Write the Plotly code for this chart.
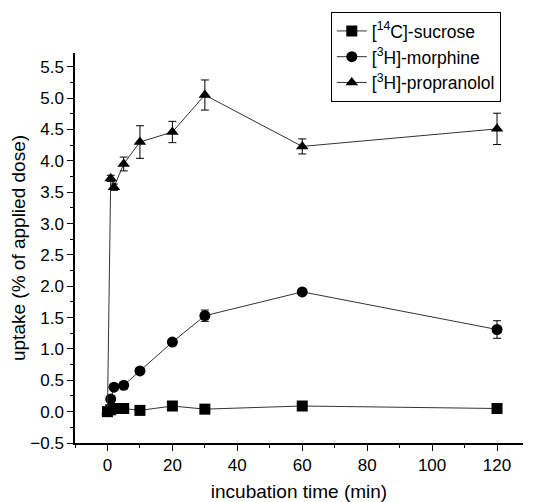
import plotly.graph_objects as go

time_min = [0, 1, 2, 5, 10, 20, 30, 60, 120]

sucrose = [0.0, 0.03, 0.05, 0.05, 0.02, 0.09, 0.04, 0.09, 0.05]
sucrose_err = [0, 0.01, 0.01, 0.01, 0.01, 0.02, 0.01, 0.01, 0.01]

morphine = [0.0, 0.20, 0.39, 0.42, 0.65, 1.11, 1.53, 1.91, 1.31]
morphine_err = [0, 0.02, 0.02, 0.02, 0.04, 0.04, 0.09, 0.03, 0.14]

propranolol = [0.0, 3.72, 3.58, 3.95, 4.30, 4.46, 5.05, 4.23, 4.51]
propranolol_err = [0, 0.05, 0.05, 0.11, 0.26, 0.17, 0.24, 0.12, 0.25]

names = ["[<sup>14</sup>C]-sucrose", "[<sup>3</sup>H]-morphine", "[<sup>3</sup>H]-propranolol"]
symbols = ["square", "circle", "triangle-up"]
series = [sucrose, morphine, propranolol]
errors = [sucrose_err, morphine_err, propranolol_err]

fig = go.Figure()
for name, sym, ys, es in zip(names, symbols, series, errors):
    fig.add_trace(go.Scatter(
        x=time_min, y=ys, name=name, mode="lines+markers",
        line=dict(color="#333333", width=1),
        marker=dict(symbol=sym, size=11, color="black"),
        error_y=dict(type="data", array=es, visible=True, color="black", thickness=1, width=4),
    ))

fig.update_layout(
    width=549, height=494,
    margin=dict(l=67, r=34, t=45, b=59, autoexpand=False),
    plot_bgcolor="white", paper_bgcolor="white",
    font=dict(family="Liberation Sans, Arial, sans-serif", color="black", size=16),
    showlegend=True,
    legend=dict(x=0.571, y=1.105, xanchor="left", yanchor="top",
                bordercolor="black", borderwidth=1, bgcolor="white",
                font=dict(size=17.5), tracegroupgap=0, itemwidth=30),
)
fig.update_xaxes(
    range=[-10, 128], showgrid=False, zeroline=False,
    showline=True, linecolor="black", linewidth=1.5,
    ticks="outside", ticklen=6, tickwidth=1, tickcolor="black",
    tickmode="array", tickvals=[0, 20, 40, 60, 80, 100, 120],
    minor=dict(tickmode="array", tickvals=[-10, 10, 30, 50, 70, 90, 110], ticks="outside", ticklen=3, tickcolor="black"),
    title=dict(text="incubation time (min)", font=dict(size=19), standoff=12),
    tickfont=dict(size=17),
)
fig.update_yaxes(
    range=[-0.5, 5.72], showgrid=False, zeroline=False,
    showline=True, linecolor="black", linewidth=1.5,
    ticks="outside", ticklen=6, tickwidth=1, tickcolor="black",
    dtick=0.5, tick0=0, tickformat=".1f",
    minor=dict(dtick=0.25, ticks="outside", ticklen=3, tickcolor="black"),
    title=dict(text="uptake (% of applied dose)", font=dict(size=19), standoff=0),
    tickfont=dict(size=17),
)

fig.write_html("out.html")
